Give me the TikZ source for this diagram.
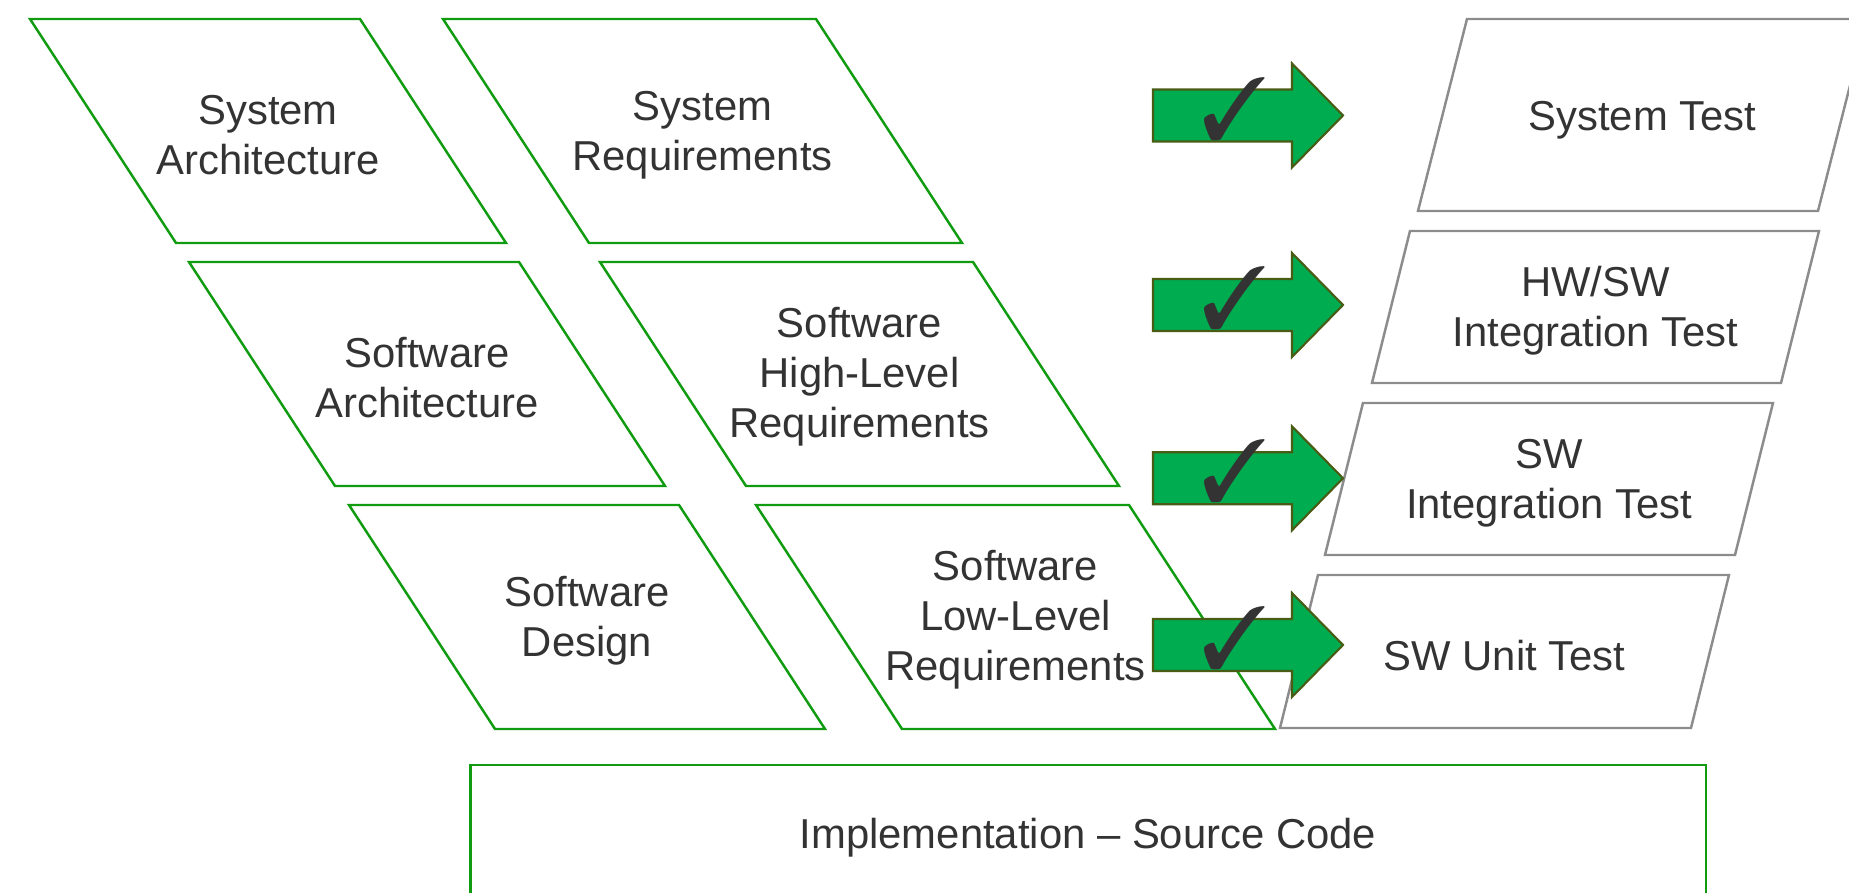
\documentclass[tikz,border=0pt]{standalone}
\usepackage{fontspec}
\setmainfont{Liberation Sans}
\usepackage{pifont}

\definecolor{phasegreen}{RGB}{16,155,16}
\definecolor{arrowgreen}{RGB}{0,172,80}
\definecolor{arrowedge}{RGB}{72,92,20}
\definecolor{testgray}{RGB}{140,140,140}
\definecolor{txtgray}{RGB}{51,51,51}

\tikzset{
  phase/.style={draw=phasegreen, line width=0.7pt},
  testbox/.style={draw=testgray, line width=0.7pt},
  lbl/.style={align=center, text=txtgray, inner sep=0pt, font=\fontsize{11.9}{14.2}\selectfont},
  passarrow/.style={fill=arrowgreen, draw=arrowedge, line width=0.6pt},
  tick/.style={text=txtgray, inner sep=0pt, font=\fontsize{25}{25}\selectfont}
}

\begin{document}
\begin{tikzpicture}
\useasboundingbox (0,0) rectangle (18.49,-8.93);
\clip (0,0) rectangle (18.49,-8.93);

% left column: architecture / design
\draw[phase] (0.30,-0.19) -- ++(3.30,0) -- ++(1.46,-2.24) -- ++(-3.30,0) -- cycle;
\node[lbl] (sysarch) at (2.68,-1.35) {System\\Architecture};
\draw[phase] (1.89,-2.62) -- ++(3.30,0) -- ++(1.46,-2.24) -- ++(-3.30,0) -- cycle;
\node[lbl] (swarch) at (4.27,-3.78) {Software\\Architecture};
\draw[phase] (3.49,-5.05) -- ++(3.30,0) -- ++(1.46,-2.24) -- ++(-3.30,0) -- cycle;
\node[lbl] (swdesign) at (5.87,-6.21) {Software\\Design};

% right column: requirements
\draw[phase] (4.43,-0.19) -- ++(3.73,0) -- ++(1.46,-2.24) -- ++(-3.73,0) -- cycle;
\node[lbl] (sysreq) at (7.025,-1.35) {System\\Requirements};
\draw[phase] (6.00,-2.62) -- ++(3.73,0) -- ++(1.46,-2.24) -- ++(-3.73,0) -- cycle;
\node[lbl] (swhlr) at (8.595,-3.77) {Software\\High-Level\\Requirements};
\draw[phase] (7.56,-5.05) -- ++(3.73,0) -- ++(1.46,-2.24) -- ++(-3.73,0) -- cycle;
\node[lbl] (swllr) at (10.155,-6.20) {Software\\Low-Level\\Requirements};

% tests
\draw[testbox] (14.67,-0.19) -- ++(4.00,0) -- ++(-0.49,-1.92) -- ++(-4.00,0) -- cycle;
\node[lbl] (systest) at (16.425,-1.20) {System Test};
\draw[testbox] (14.10,-2.31) -- ++(4.09,0) -- ++(-0.38,-1.52) -- ++(-4.09,0) -- cycle;
\node[lbl] (hwswtest) at (15.955,-3.11) {HW/SW\\Integration Test};
\draw[testbox] (13.63,-4.03) -- ++(4.10,0) -- ++(-0.38,-1.52) -- ++(-4.10,0) -- cycle;
\node[lbl] (swinttest) at (15.49,-4.83) {SW\\Integration Test};
\draw[testbox] (13.18,-5.75) -- ++(4.11,0) -- ++(-0.38,-1.53) -- ++(-4.11,0) -- cycle;
\node[lbl] (swunittest) at (15.045,-6.56) {SW Unit Test};

% implementation
\draw[phase] (4.705,-9.10) rectangle (17.06,-7.65);
\node[lbl] (impl) at (10.88,-8.38) {Implementation -- Source Code};

% verification arrows with ticks
\foreach \y [count=\i] in {1.155,3.05,4.783,6.45} {
  \draw[passarrow] (11.53,-\y) ++(0,0.26) -- ++(1.39,0) -- ++(0,0.26) -- ++(0.51,-0.52)
    -- ++(-0.51,-0.52) -- ++(0,0.26) -- ++(-1.39,0) -- cycle;
  \node[tick] (tick\i) at (12.35,{-\y+0.07}) {\ding{51}};
}
\end{tikzpicture}
\end{document}
